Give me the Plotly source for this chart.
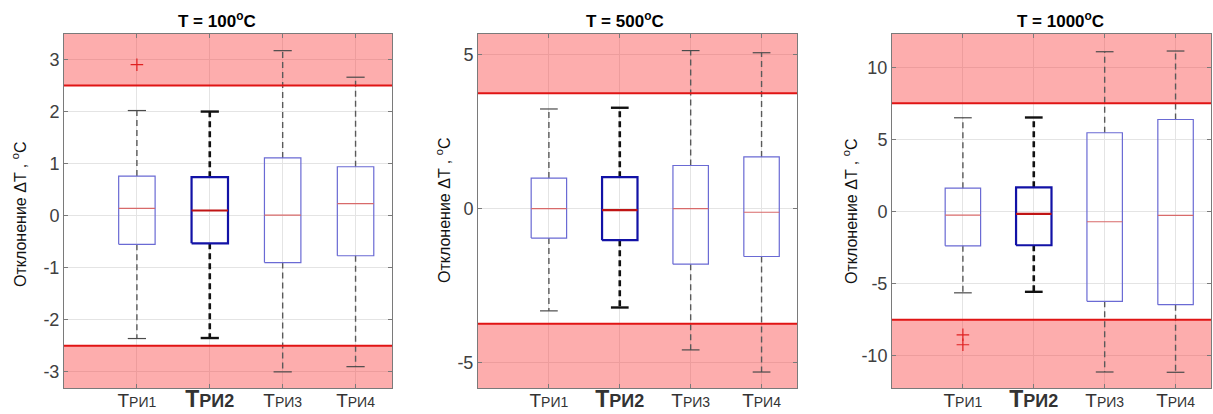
import plotly.graph_objects as go

# ---- data -------------------------------------------------------------
sensor_labels = ["РИ1", "РИ2", "РИ3", "РИ4"]
highlight_index = 1  # ТРИ2 is emphasised

temperatures = [100, 500, 1000]

t100_lower = [-2.36, -2.35, -3.00, -2.90]
t100_q1 = [-0.55, -0.53, -0.90, -0.77]
t100_median = [0.14, 0.10, 0.01, 0.23]
t100_q3 = [0.76, 0.74, 1.11, 0.94]
t100_upper = [2.02, 2.00, 3.17, 2.66]
t100_outliers = [[2.90], [], [], []]

t500_lower = [-3.33, -3.22, -4.60, -5.32]
t500_q1 = [-0.96, -1.03, -1.81, -1.56]
t500_median = [0.00, -0.05, 0.00, -0.12]
t500_q3 = [0.99, 1.02, 1.40, 1.68]
t500_upper = [3.24, 3.28, 5.14, 5.07]
t500_outliers = [[], [], [], []]

t1000_lower = [-5.64, -5.57, -11.13, -11.15]
t1000_q1 = [-2.38, -2.34, -6.23, -6.46]
t1000_median = [-0.25, -0.16, -0.71, -0.27]
t1000_q3 = [1.62, 1.68, 5.46, 6.38]
t1000_upper = [6.50, 6.52, 11.08, 11.13]
t1000_outliers = [[-8.55, -9.24], [], [], []]

tolerance = [2.5, 3.75, 7.5]
x_range = [0, 4.5]
y_ranges = [[-3.31, 3.49], [-5.84, 5.68], [-12.24, 12.31]]
y_ticks = [[-3, -2, -1, 0, 1, 2, 3], [-5, 0, 5], [-10, -5, 0, 5, 10]]

panels = [
    (t100_lower, t100_q1, t100_median, t100_q3, t100_upper, t100_outliers),
    (t500_lower, t500_q1, t500_median, t500_q3, t500_upper, t500_outliers),
    (t1000_lower, t1000_q1, t1000_median, t1000_q3, t1000_upper, t1000_outliers),
]

# ---- layout geometry ---------------------------------------------------
W, H = 1213, 414
x_domains = [[64 / W, 392 / W], [478 / W, 797 / W], [892 / W, 1211 / W]]
title_x = [217 / W, 625 / W, 1060 / W]
ylabel_x = [19 / W, 443 / W, 850 / W]
ylabel_y = [1 - (214 - 34) / 354, 1 - (210 - 34) / 354, 1 - (211 - 34) / 354]

FONT = "Liberation Sans, Arial, sans-serif"
BOX_HALF = 0.25
CAP_HALF = 0.125

style_normal = dict(box="#6a6ad4", box_w=1.2, med="#d86a6a", med_w=1.2,
                    whisk="#5a5a5a", whisk_w=1.4, cap="#4a4a4a", cap_w=1.2)
style_bold = dict(box="#1212a6", box_w=2.2, med="#c01414", med_w=2.2,
                  whisk="#111111", whisk_w=2.6, cap="#111111", cap_w=2.4)

fig = go.Figure()


def tick_text(label, bold):
    # a large "T" followed by the sensor index in smaller capitals
    if bold:
        return ("<b><span style='font-size:23px'>T</span>"
                f"<span style='font-size:18px'>{label}</span></b>")
    return f"<span style='font-size:19px'>T</span>{label}"


def ax_name(kind, k):
    return kind if k == 0 else f"{kind}{k + 1}"


for k, (lo, q1, med, q3, hi, outl) in enumerate(panels):
    xa, ya = ax_name("x", k), ax_name("y", k)
    lim = tolerance[k]
    yr = y_ranges[k]

    # out-of-tolerance bands (semi-transparent so the grid shows through)
    for y0, y1 in [(lim, yr[1]), (yr[0], -lim)]:
        fig.add_trace(go.Scatter(
            x=[x_range[0], x_range[1], x_range[1], x_range[0], x_range[0]],
            y=[y0, y0, y1, y1, y0], mode="lines", fill="toself",
            fillcolor="rgba(250,60,60,0.42)", line=dict(width=0),
            xaxis=xa, yaxis=ya, showlegend=False, hoverinfo="skip"))

    for i in range(len(sensor_labels)):
        st = style_bold if i == highlight_index else style_normal
        xc = i + 1
        # whiskers (dashed)
        fig.add_trace(go.Scatter(
            x=[xc, xc, None, xc, xc], y=[q3[i], hi[i], None, q1[i], lo[i]],
            mode="lines", line=dict(color=st["whisk"], width=st["whisk_w"], dash="6px,4px"),
            xaxis=xa, yaxis=ya, showlegend=False, hoverinfo="skip"))
        # whisker caps
        fig.add_trace(go.Scatter(
            x=[xc - CAP_HALF, xc + CAP_HALF, None, xc - CAP_HALF, xc + CAP_HALF],
            y=[hi[i], hi[i], None, lo[i], lo[i]],
            mode="lines", line=dict(color=st["cap"], width=st["cap_w"]),
            xaxis=xa, yaxis=ya, showlegend=False, hoverinfo="skip"))
        # box
        fig.add_trace(go.Scatter(
            x=[xc - BOX_HALF, xc + BOX_HALF, xc + BOX_HALF, xc - BOX_HALF, xc - BOX_HALF],
            y=[q1[i], q1[i], q3[i], q3[i], q1[i]],
            mode="lines", line=dict(color=st["box"], width=st["box_w"]),
            xaxis=xa, yaxis=ya, showlegend=False, hoverinfo="skip"))
        # median
        fig.add_trace(go.Scatter(
            x=[xc - BOX_HALF, xc + BOX_HALF], y=[med[i], med[i]],
            mode="lines", line=dict(color=st["med"], width=st["med_w"]),
            xaxis=xa, yaxis=ya, showlegend=False, hoverinfo="skip"))
        # outliers
        if outl[i]:
            fig.add_trace(go.Scatter(
                x=[xc] * len(outl[i]), y=outl[i], mode="markers",
                marker=dict(symbol="cross-thin", size=9,
                            line=dict(color="#e02020", width=1.2)),
                xaxis=xa, yaxis=ya, showlegend=False, hoverinfo="skip"))

    # tolerance limits
    fig.add_trace(go.Scatter(
        x=[x_range[0], x_range[1], None, x_range[0], x_range[1]],
        y=[lim, lim, None, -lim, -lim], mode="lines",
        line=dict(color="#e01414", width=2),
        xaxis=xa, yaxis=ya, showlegend=False, hoverinfo="skip"))

    axis_common = dict(showline=True, linecolor="#7a7a7a", linewidth=1, mirror="ticks",
                       ticks="inside", ticklen=4, tickcolor="#7a7a7a", automargin=False,
                       showgrid=True, gridcolor="#e4e4e4", gridwidth=1, zeroline=False)
    fig.layout[ax_name("xaxis", k)] = dict(
        domain=x_domains[k], range=x_range, anchor=ya,
        tickvals=[1, 2, 3, 4],
        ticktext=[tick_text(lbl, i == highlight_index) for i, lbl in enumerate(sensor_labels)],
        tickfont=dict(family=FONT, size=14, color="#333333"), ticklabelstandoff=1,
        **axis_common)
    fig.layout[ax_name("yaxis", k)] = dict(
        domain=[0, 1], range=yr, anchor=xa,
        tickvals=y_ticks[k], ticktext=[str(v) for v in y_ticks[k]],
        tickfont=dict(family=FONT, size=18, color="#404040"), **axis_common)

    fig.add_annotation(xref="paper", yref="paper", x=title_x[k], y=1, yshift=14,
                       yanchor="middle", xanchor="center", showarrow=False,
                       text=f"<b>T = {temperatures[k]}<sup>o</sup>C</b>",
                       font=dict(family=FONT, size=17, color="#000000"))
    fig.add_annotation(xref="paper", yref="paper", x=ylabel_x[k], y=ylabel_y[k],
                       xanchor="center", yanchor="middle", showarrow=False, textangle=-90,
                       text="Отклонение ΔT , <sup>o</sup>C",
                       font=dict(family=FONT, size=16, color="#111111"))

fig.update_layout(
    width=W, height=H,
    margin=dict(l=0, r=0, t=34, b=26, autoexpand=False),
    paper_bgcolor="white", plot_bgcolor="white",
    showlegend=False,
)

fig.write_html("out.html")
